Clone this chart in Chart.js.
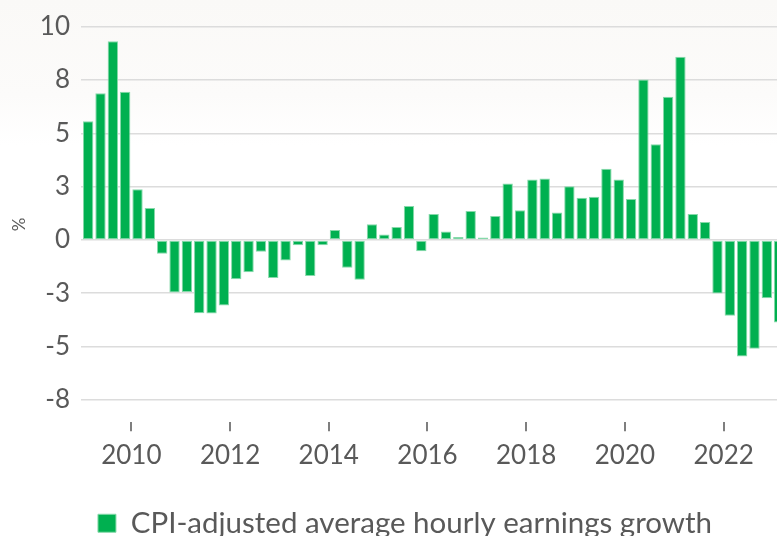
<!DOCTYPE html>
<html>
<head>
<meta charset="utf-8">
<script src="https://cdn.jsdelivr.net/npm/chart.js@4/dist/chart.umd.min.js"></script>
<style>
    html, body {
        margin: 0;
        padding: 0;
        width: 777px;
        height: 536px;
        overflow: hidden;
        background: linear-gradient(#faf9f7 0px, #fcfbfa 95px, #ffffff 145px, #ffffff 100%);
    }
    /* the original picture is cropped on the right and bottom */
    #wrap { position: relative; width: 814px; height: 548px; }
</style>
</head>
<body>
<div id="wrap"><canvas id="chart"></canvas></div>
<script>
// Quarterly observations (the picture is cut off at the right edge)
const quarters = [
    '2009 Q1', '2009 Q2', '2009 Q3', '2009 Q4',
    '2010 Q1', '2010 Q2', '2010 Q3', '2010 Q4',
    '2011 Q1', '2011 Q2', '2011 Q3', '2011 Q4',
    '2012 Q1', '2012 Q2', '2012 Q3', '2012 Q4',
    '2013 Q1', '2013 Q2', '2013 Q3', '2013 Q4',
    '2014 Q1', '2014 Q2', '2014 Q3', '2014 Q4',
    '2015 Q1', '2015 Q2', '2015 Q3', '2015 Q4',
    '2016 Q1', '2016 Q2', '2016 Q3', '2016 Q4',
    '2017 Q1', '2017 Q2', '2017 Q3', '2017 Q4',
    '2018 Q1', '2018 Q2', '2018 Q3', '2018 Q4',
    '2019 Q1', '2019 Q2', '2019 Q3', '2019 Q4',
    '2020 Q1', '2020 Q2', '2020 Q3', '2020 Q4',
    '2021 Q1', '2021 Q2', '2021 Q3', '2021 Q4',
    '2022 Q1', '2022 Q2', '2022 Q3', '2022 Q4',
    '2023 Q1'
];
const earningsGrowth = [
    5.56, 6.87, 9.31, 6.94,
    2.38, 1.50, -0.65, -2.46,
    -2.44, -3.44, -3.45, -3.08,
    -1.84, -1.51, -0.56, -1.78,
    -0.96, -0.25, -1.69, -0.25,
    0.47, -1.31, -1.87, 0.73,
    0.25, 0.60, 1.59, -0.53,
    1.21, 0.40, 0.14, 1.35,
    0.11, 1.12, 2.64, 1.39,
    2.83, 2.88, 1.28, 2.51,
    1.98, 2.02, 3.34, 2.83,
    1.92, 7.52, 4.49, 6.71,
    8.59, 1.22, 0.84, -2.51,
    -3.56, -5.47, -5.10, -2.73,
    -3.87
];
const xTickYears = [2010, 2012, 2014, 2016, 2018, 2020, 2022];
const yTickValues = [-7.5, -5, -2.5, 0, 2.5, 5, 7.5, 10];
const yTickLabels = ['-8', '-5', '-3', '0', '3', '5', '8', '10'];
const seriesLabel = 'CPI-adjusted average hourly earnings growth';

// quarter label -> position on a continuous year axis (middle of the quarter)
const quarterToX = (q) => {
    const [year, part] = q.split(' Q');
    return Number(year) + (Number(part) - 1) / 4 + 0.125;
};

const points = quarters.map((q, i) => ({ x: quarterToX(q), y: earningsGrowth[i] }));

const textColor = '#595959';
const fontFamily = 'Lato, "Open Sans", sans-serif';

const ctx = document.getElementById('chart').getContext('2d');
new Chart(ctx, {
    type: 'bar',
    data: {
        datasets: [{
            label: seriesLabel,
            data: points,
            backgroundColor: '#00b050',
            borderColor: '#86d9aa',
            borderWidth: 1,
            borderSkipped: false,
            barPercentage: 0.84,
            categoryPercentage: 1
        }]
    },
    options: {
        responsive: true,
        maintainAspectRatio: false,
        animation: false,
        layout: { padding: { top: 24, right: 4, bottom: 0, left: 0 } },
        plugins: {
            tooltip: { enabled: false },
            legend: {
                position: 'bottom',
                labels: {
                    color: textColor,
                    font: { family: fontFamily, size: 29.5 },
                    boxWidth: 18,
                    boxHeight: 18,
                    padding: 28
                }
            }
        },
        scales: {
            x: {
                type: 'linear',
                min: 2008.98,
                max: 2023.75,
                offset: false,
                afterBuildTicks: (scale) => {
                    scale.ticks = xTickYears.map(v => ({ value: v }));
                },
                ticks: {
                    autoSkip: false,
                    maxRotation: 0,
                    padding: 9,
                    color: textColor,
                    font: { family: fontFamily, size: 26 },
                    callback: (value) => String(value)
                },
                grid: {
                    offset: false,
                    drawOnChartArea: false,
                    drawTicks: true,
                    tickLength: 9,
                    color: '#7f7f7f',
                    lineWidth: 2
                },
                border: { display: false }
            },
            y: {
                min: -8.55,
                max: 10,
                afterBuildTicks: (scale) => {
                    scale.ticks = yTickValues.map(v => ({ value: v }));
                },
                afterFit: (scale) => { scale.width = 81; },
                ticks: {
                    padding: 11,
                    color: textColor,
                    font: { family: fontFamily, size: 26 },
                    callback: (value, index) => yTickLabels[index]
                },
                grid: {
                    color: '#dcdcdc',
                    lineWidth: 1.5,
                    drawTicks: false
                },
                border: { display: false },
                title: {
                    display: true,
                    text: '%',
                    color: textColor,
                    font: { family: fontFamily, size: 17 },
                    padding: { top: 9, bottom: 0 }
                }
            }
        }
    }
});
</script>
</body>
</html>
